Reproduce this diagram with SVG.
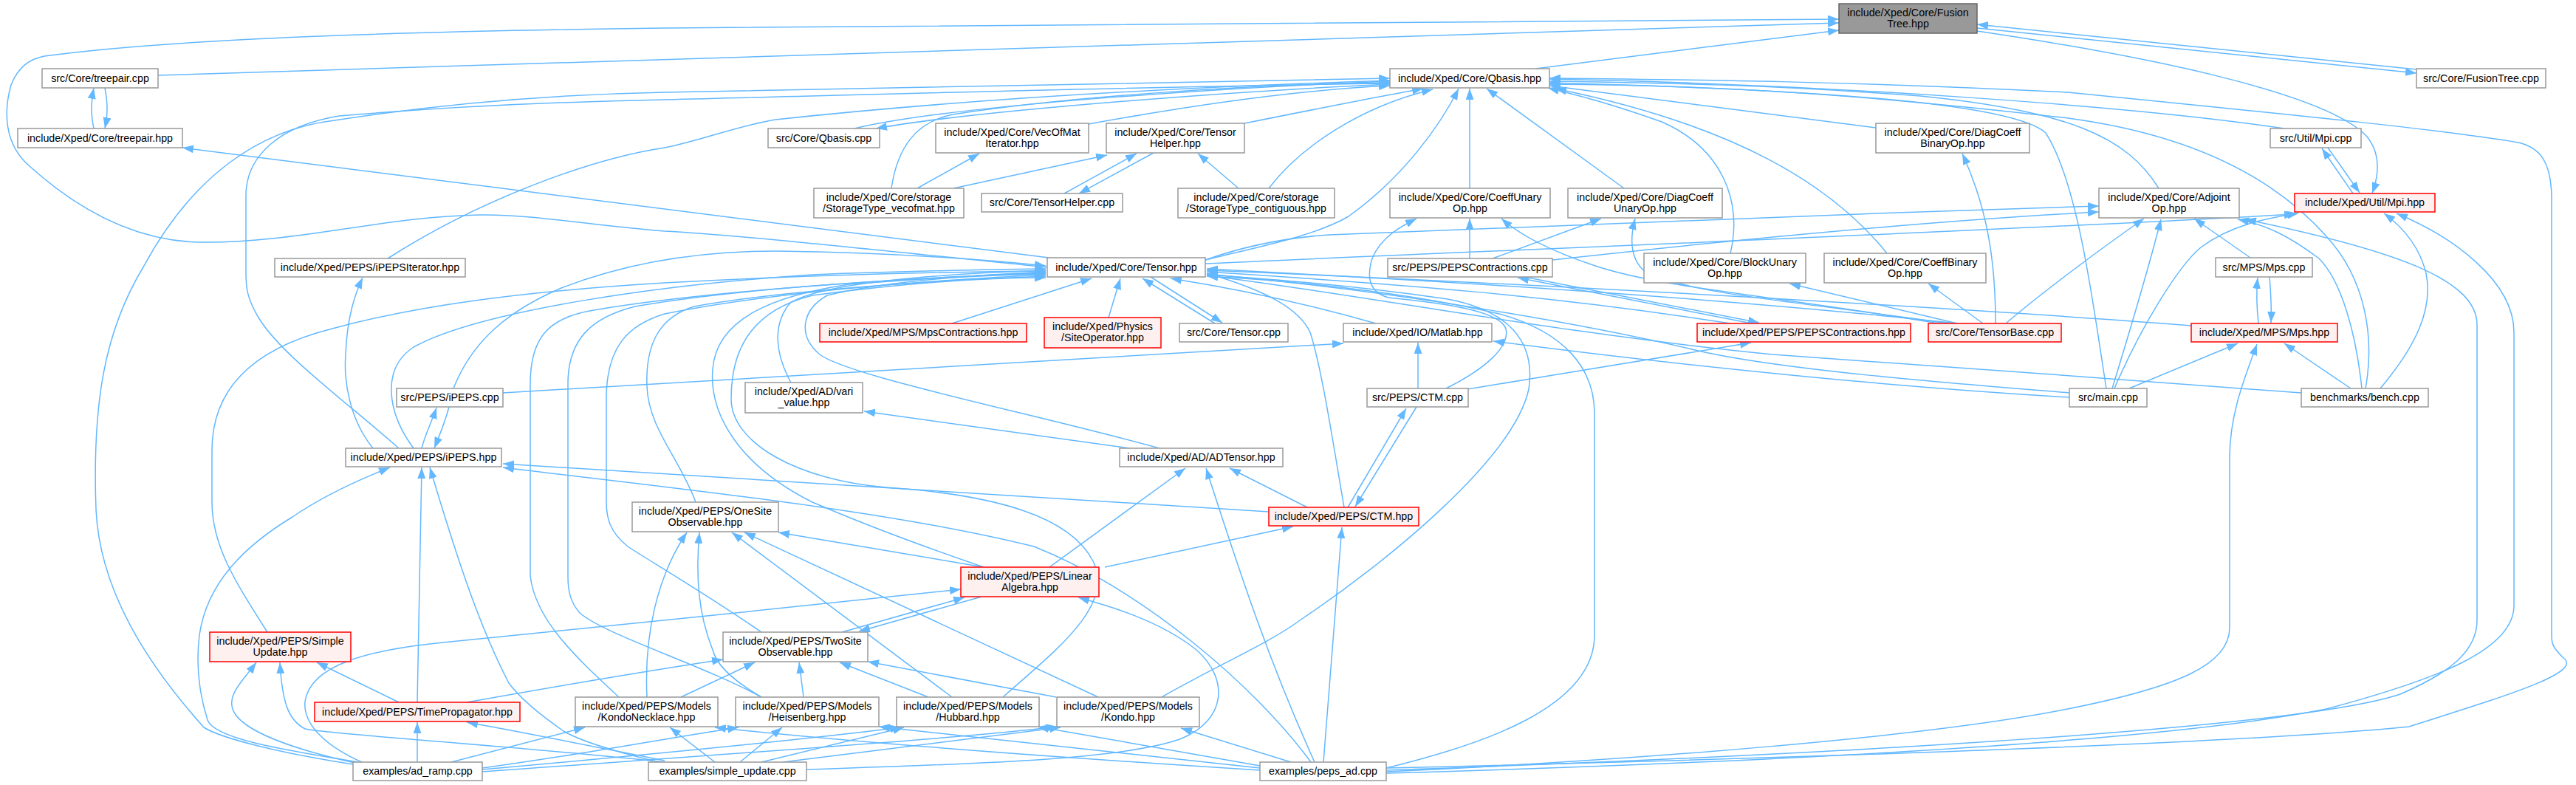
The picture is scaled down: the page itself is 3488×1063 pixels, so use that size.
<svg xmlns="http://www.w3.org/2000/svg" width="3488" height="1063" viewBox="0 0 3488 1063">
<style>
.n rect{fill:#fff;stroke:#999;stroke-width:1.5}
.r rect{fill:#fff0f0;stroke:#f00;stroke-width:1.5}
.root rect{fill:#999;stroke:#666;stroke-width:1.5}
text{font-family:"Liberation Sans",Arial,sans-serif;font-size:14.3px;text-anchor:middle;fill:#000}
#edges path{fill:none;stroke:#63b8ff;stroke-width:1.5;marker-end:url(#ah)}
</style>
<defs>
<marker id="ah" markerUnits="userSpaceOnUse" markerWidth="15" markerHeight="11" viewBox="0 0 15 11" refX="15" refY="5.5" orient="auto"><path d="M0,0 L15,5.5 L0,11 z" fill="#63b8ff"/></marker>
</defs>
<rect width="3488" height="1063" fill="#fff"/>
<g id="edges">
<path d="M2079,93 L2490,41"/>
<path d="M214,102 L2490,31"/>
<path d="M1418,362 C1250,345 1000,318 900,313 C800,305 720,290 650,291 C520,293 400,330 270,328 C170,326 90,270 40,225 C5,195 5,150 15,115 C25,90 40,80 60,76 C250,50 600,42 900,38 C1500,32 2100,27 2490,26"/>
<path d="M3272,94 L2677,33"/>
<path d="M2677,38 L3272,99"/>
<path d="M2677,42 C2900,75 3150,125 3205,185 C3225,210 3220,240 3212,262"/>
<path d="M127,174 C123,155 123,140 127,119"/>
<path d="M142,119 C146,140 146,155 142,174"/>
<path d="M1420,349 L247,200"/>
<path d="M1157,174 C1300,140 1700,117 1882,110"/>
<path d="M1882,114 C1700,122 1330,148 1186,174"/>
<path d="M1474,168 C1600,145 1750,122 1882,116"/>
<path d="M1685,167 C1780,148 1870,130 1927,120"/>
<path d="M1207,255 C1215,200 1240,165 1290,155 C1450,130 1700,114 1882,112"/>
<path d="M1242,255 L1326,208"/>
<path d="M1291,255 L1499,210"/>
<path d="M1441,262 L1539,208"/>
<path d="M1562,207 L1461,262"/>
<path d="M1677,255 L1622,208"/>
<path d="M1718,255 C1760,200 1840,145 1940,121"/>
<path d="M1632,352 C1700,335 1780,320 1826,293 C1900,240 1950,170 1975,120"/>
<path d="M1990,255 L1990,120"/>
<path d="M2199,255 L2013,120"/>
<path d="M2343,343 C2360,270 2330,200 2250,165 C2180,140 2140,130 2096,119"/>
<path d="M2555,343 C2480,250 2350,170 2106,120"/>
<path d="M2540,173 L2098,116"/>
<path d="M3093,174 C2900,145 2500,115 2098,107"/>
<path d="M2923,255 C2880,185 2800,150 2600,130 C2400,115 2250,112 2098,110"/>
<path d="M2852,526 C2835,420 2815,250 2770,180 C2720,135 2400,120 2098,112"/>
<path d="M3203,526 C3215,460 3205,380 3150,320 C3070,230 2950,180 2800,160 C2500,125 2300,115 2098,114"/>
<path d="M1877,1040 C2300,1030 3000,1010 3262,984 C3400,940 3500,910 3470,890 C3455,875 3455,870 3455,860 L3455,270 C3455,220 3440,200 3410,193 C3300,175 3150,160 2800,125 C2500,110 2300,108 2098,106"/>
<path d="M525,350 C650,270 800,215 900,200 C950,190 1000,170 1050,162 C1300,135 1600,118 1882,109"/>
<path d="M540,607 C470,545 380,480 350,430 C335,405 333,390 333,370 L333,265 C333,210 380,170 459,157 C600,145 750,138 900,135 C1300,125 1600,116 1882,113"/>
<path d="M478,1035 C380,1020 300,1000 276,985 C200,900 135,800 130,690 C125,550 140,450 195,360 C260,240 350,175 453,163 C600,140 750,128 900,125 C1300,118 1600,110 1882,106"/>
<path d="M614,526 C640,460 690,420 760,390 C850,355 950,340 1050,340 C1200,342 1320,350 1416,360"/>
<path d="M560,607 C525,560 515,500 560,470 C650,420 900,385 1100,372 C1250,366 1350,365 1416,364"/>
<path d="M362,856 C320,790 287,740 287,680 L287,610 C287,520 350,470 450,445 C560,415 700,395 900,383 C1100,372 1300,368 1416,367"/>
<path d="M838,944 C780,890 725,840 718,780 L718,520 C718,460 740,430 804,420 C950,395 1200,378 1416,369"/>
<path d="M1031,944 C950,900 820,860 785,830 C772,815 769,800 769,780 L769,520 C769,460 800,430 860,415 C1000,390 1250,375 1416,370"/>
<path d="M1031,856 C950,800 880,760 850,740 C825,720 821,700 821,680 L821,540 C821,470 850,440 900,425 C1050,395 1250,380 1416,372"/>
<path d="M942,680 C920,620 878,580 876,523 C874,470 890,430 940,415 C1050,395 1250,380 1416,374"/>
<path d="M1358,944 C1430,880 1510,820 1480,760 C1450,700 1350,670 1200,660 C1080,650 990,600 990,540 C990,470 1020,420 1100,400 C1250,380 1350,376 1416,376"/>
<path d="M1573,944 C1650,900 1720,870 1760,840 C1880,760 2050,620 2070,527 C2080,460 2040,420 1960,405 C1820,385 1720,378 1634,372"/>
<path d="M1332,768 C1250,740 1170,710 1100,680 C1000,630 960,560 965,500 C970,430 1050,400 1150,385 C1300,373 1380,372 1416,371"/>
<path d="M1820,687 C1805,600 1790,500 1774,450 C1760,420 1720,395 1634,370"/>
<path d="M1570,607 C1400,560 1150,510 1110,480 C1080,455 1085,420 1120,400 C1200,380 1330,372 1416,368"/>
<path d="M1071,518 C1050,480 1045,440 1070,410 C1120,380 1300,370 1416,366"/>
<path d="M1289,438 L1478,377"/>
<path d="M1501,430 L1517,377"/>
<path d="M1645,438 L1547,377"/>
<path d="M1558,375 L1655,437"/>
<path d="M1863,438 C1800,420 1700,395 1585,377"/>
<path d="M2343,438 C2100,400 1900,385 1634,368"/>
<path d="M2651,438 C2300,400 1900,378 1634,364"/>
<path d="M2967,441 C2700,420 2100,385 1634,366"/>
<path d="M2802,532 C2650,520 2400,500 2291,473 C2150,440 1900,395 1634,371"/>
<path d="M3116,532 C2900,515 2600,495 2400,480 C2100,450 1850,400 1634,373"/>
<path d="M1877,1040 C2000,1010 2159,960 2159,860 L2159,560 C2159,500 2120,450 2030,425 C1900,395 1750,380 1634,374"/>
<path d="M1918,551 L1835,686"/>
<path d="M1825,687 L1904,553"/>
<path d="M1920,526 L1920,464"/>
<path d="M1987,527 L2371,464"/>
<path d="M1958,526 C2010,500 2045,470 2039,445 C2030,420 1950,410 1880,403 C1850,395 1852,370 1858,350 C1870,320 1900,305 1918,296"/>
<path d="M1718,693 L681,628"/>
<path d="M1775,1032 C1700,930 1550,800 1400,740 C1200,690 900,660 681,633"/>
<path d="M1780,1032 C1720,900 1680,780 1633,634"/>
<path d="M1792,1032 L1817,714"/>
<path d="M1748,1032 L1599,986"/>
<path d="M1877,1045 C2200,1030 2600,1000 2800,960 C2950,930 3019,900 3019,850 L3019,620 C3019,560 3040,510 3056,466"/>
<path d="M1877,1047 C2300,1035 2900,1010 3150,960 C3300,920 3404,880 3404,820 L3404,450 C3404,380 3320,320 3245,289"/>
<path d="M1877,1043 C2400,1025 3100,990 3250,940 C3320,910 3354,880 3354,840 L3354,440 C3354,380 3250,340 3040,297"/>
<path d="M2860,526 C2880,460 2905,380 2926,297"/>
<path d="M2863,526 C2900,440 2950,360 2980,335 C3020,305 3070,295 3112,289"/>
<path d="M2883,526 L3030,465"/>
<path d="M2802,538 C2500,520 2200,485 2022,462"/>
<path d="M3183,526 L3093,465"/>
<path d="M3223,526 C3270,470 3295,420 3285,370 C3275,330 3250,305 3228,289"/>
<path d="M3198,526 C3190,450 3170,380 3140,350 C3100,320 3070,305 3030,297"/>
<path d="M3058,438 C3055,410 3055,395 3057,376"/>
<path d="M3073,375 C3075,400 3076,415 3075,437"/>
<path d="M3047,349 L2971,296"/>
<path d="M3186,262 L3144,201"/>
<path d="M3152,200 L3195,261"/>
<path d="M1632,357 C2000,340 2600,318 3108,290"/>
<path d="M1632,352 C1680,335 1740,322 1800,318 C2200,300 2500,290 2842,279"/>
<path d="M2102,352 C2300,330 2600,300 2842,287"/>
<path d="M1990,350 L1990,296"/>
<path d="M2021,350 L2168,296"/>
<path d="M2372,438 L2055,376"/>
<path d="M2064,375 L2382,437"/>
<path d="M2625,438 C2400,400 2250,390 2160,360 C2100,340 2060,320 2033,296"/>
<path d="M2637,438 C2450,410 2300,400 2230,370 C2210,355 2205,330 2214,296"/>
<path d="M2685,438 L2611,384"/>
<path d="M2702,438 C2702,350 2690,280 2657,208"/>
<path d="M2716,438 C2760,400 2840,340 2903,296"/>
<path d="M2650,438 L2423,384"/>
<path d="M1530,607 L1170,557"/>
<path d="M1421,768 L1605,634"/>
<path d="M1770,687 L1665,634"/>
<path d="M1496,768 L1751,713"/>
<path d="M876,944 C872,860 890,780 930,721"/>
<path d="M1031,944 C990,920 970,900 965,880 C945,830 942,780 947,721"/>
<path d="M1289,944 L991,721"/>
<path d="M1487,944 L1008,721"/>
<path d="M1332,768 L1054,721"/>
<path d="M922,944 L1022,897"/>
<path d="M1088,944 L1082,897"/>
<path d="M1257,944 L1137,897"/>
<path d="M1430,944 L1175,896"/>
<path d="M632,951 C750,930 900,905 979,893"/>
<path d="M1140,856 L1306,809"/>
<path d="M1329,808 L1163,855"/>
<path d="M490,1032 C440,1010 410,980 413,950 C420,900 500,880 600,870 C800,850 1100,820 1301,798"/>
<path d="M1092,1042 C1300,1035 1520,1030 1600,1000 C1660,975 1665,920 1620,880 C1570,840 1500,820 1460,809"/>
<path d="M611,1032 L792,985"/>
<path d="M968,1032 L907,985"/>
<path d="M1706,1043 C1500,1030 1200,1010 968,985"/>
<path d="M653,1040 C800,1020 900,1000 1000,985"/>
<path d="M1002,1032 L1059,985"/>
<path d="M1706,1040 L1190,984"/>
<path d="M653,1042 C900,1020 1100,1000 1220,985"/>
<path d="M1031,1032 L1224,985"/>
<path d="M1706,1037 L1405,984"/>
<path d="M653,1045 C1000,1020 1300,1000 1431,984"/>
<path d="M1060,1032 L1436,985"/>
<path d="M480,1033 C400,1015 325,990 315,960 C308,940 330,920 347,897"/>
<path d="M900,1032 C700,1010 450,995 413,987 C390,975 382,950 379,897"/>
<path d="M540,951 L429,897"/>
<path d="M565,1032 L565,978"/>
<path d="M900,1030 C800,1010 700,990 632,978"/>
<path d="M565,951 L571,633"/>
<path d="M900,1034 C820,1015 780,1000 763,990 C720,960 700,940 689,925 C650,850 620,760 582,633"/>
<path d="M485,1032 C380,1015 290,1000 281,975 C270,940 265,900 270,860 C280,790 330,740 396,700 C440,670 490,648 528,633"/>
<path d="M571,607 C575,590 585,570 591,552"/>
<path d="M608,551 C603,570 595,590 588,607"/>
<path d="M505,607 C475,570 465,520 468,480 C470,430 480,400 491,376"/>
<path d="M681,532 L1819,465"/>
</g>
<g id="n_fusiontree" class="root"><rect x="2490" y="5" width="187" height="40"/><text x="2583.5" y="21.5">include/Xped/Core/Fusion</text><text x="2583.5" y="36.5">Tree.hpp</text></g>
<g id="n_treepair_cpp" class="n"><rect x="57" y="93" width="157" height="26"/><text x="135.5" y="110.5">src/Core/treepair.cpp</text></g>
<g id="n_treepair_hpp" class="n"><rect x="24" y="174" width="223" height="26"/><text x="135.5" y="191.5">include/Xped/Core/treepair.hpp</text></g>
<g id="n_qbasis_hpp" class="n"><rect x="1882" y="93" width="216" height="26"/><text x="1990" y="110.5">include/Xped/Core/Qbasis.hpp</text></g>
<g id="n_fusiontree_cpp" class="n"><rect x="3272" y="93" width="175" height="26"/><text x="3359.5" y="110.5">src/Core/FusionTree.cpp</text></g>
<g id="n_qbasis_cpp" class="n"><rect x="1040" y="174" width="151" height="26"/><text x="1115.5" y="191.5">src/Core/Qbasis.cpp</text></g>
<g id="n_vecofmat_iter" class="n"><rect x="1267" y="167" width="207" height="40"/><text x="1370.5" y="183.5">include/Xped/Core/VecOfMat</text><text x="1370.5" y="198.5">Iterator.hpp</text></g>
<g id="n_tensorhelper_hpp" class="n"><rect x="1498" y="167" width="187" height="40"/><text x="1591.5" y="183.5">include/Xped/Core/Tensor</text><text x="1591.5" y="198.5">Helper.hpp</text></g>
<g id="n_storage_vecofmat" class="n"><rect x="1102" y="255" width="203" height="40"/><text x="1203.5" y="271.5">include/Xped/Core/storage</text><text x="1203.5" y="286.5">/StorageType_vecofmat.hpp</text></g>
<g id="n_tensorhelper_cpp" class="n"><rect x="1329" y="262" width="191" height="25"/><text x="1424.5" y="279">src/Core/TensorHelper.cpp</text></g>
<g id="n_storage_contig" class="n"><rect x="1595" y="255" width="212" height="40"/><text x="1701" y="271.5">include/Xped/Core/storage</text><text x="1701" y="286.5">/StorageType_contiguous.hpp</text></g>
<g id="n_coeffunary" class="n"><rect x="1882" y="255" width="217" height="40"/><text x="1990.5" y="271.5">include/Xped/Core/CoeffUnary</text><text x="1990.5" y="286.5">Op.hpp</text></g>
<g id="n_diagcoeffunary" class="n"><rect x="2123" y="255" width="209" height="40"/><text x="2227.5" y="271.5">include/Xped/Core/DiagCoeff</text><text x="2227.5" y="286.5">UnaryOp.hpp</text></g>
<g id="n_diagcoeffbinary" class="n"><rect x="2540" y="167" width="208" height="40"/><text x="2644" y="183.5">include/Xped/Core/DiagCoeff</text><text x="2644" y="198.5">BinaryOp.hpp</text></g>
<g id="n_mpi_cpp" class="n"><rect x="3074" y="174" width="123" height="26"/><text x="3135.5" y="191.5">src/Util/Mpi.cpp</text></g>
<g id="n_mpi_hpp" class="r"><rect x="3107" y="262" width="190" height="25"/><text x="3202" y="279">include/Xped/Util/Mpi.hpp</text></g>
<g id="n_adjointop" class="n"><rect x="2842" y="255" width="190" height="40"/><text x="2937" y="271.5">include/Xped/Core/Adjoint</text><text x="2937" y="286.5">Op.hpp</text></g>
<g id="n_mps_cpp" class="n"><rect x="3000" y="349" width="131" height="26"/><text x="3065.5" y="366.5">src/MPS/Mps.cpp</text></g>
<g id="n_mps_hpp" class="r"><rect x="2967" y="438" width="198" height="25"/><text x="3066" y="455">include/Xped/MPS/Mps.hpp</text></g>
<g id="n_main_cpp" class="n"><rect x="2802" y="526" width="105" height="25"/><text x="2854.5" y="543">src/main.cpp</text></g>
<g id="n_bench_cpp" class="n"><rect x="3116" y="526" width="172" height="25"/><text x="3202" y="543">benchmarks/bench.cpp</text></g>
<g id="n_tensorbase_cpp" class="r"><rect x="2611" y="438" width="180" height="25"/><text x="2701" y="455">src/Core/TensorBase.cpp</text></g>
<g id="n_coeffbinary" class="n"><rect x="2470" y="343" width="219" height="40"/><text x="2579.5" y="359.5">include/Xped/Core/CoeffBinary</text><text x="2579.5" y="374.5">Op.hpp</text></g>
<g id="n_blockunary" class="n"><rect x="2226" y="343" width="219" height="40"/><text x="2335.5" y="359.5">include/Xped/Core/BlockUnary</text><text x="2335.5" y="374.5">Op.hpp</text></g>
<g id="n_pepscontr_cpp" class="n"><rect x="1879" y="350" width="223" height="25"/><text x="1990.5" y="367">src/PEPS/PEPSContractions.cpp</text></g>
<g id="n_pepscontr_hpp" class="r"><rect x="2298" y="438" width="289" height="25"/><text x="2442.5" y="455">include/Xped/PEPS/PEPSContractions.hpp</text></g>
<g id="n_matlab" class="n"><rect x="1819" y="438" width="201" height="25"/><text x="1919.5" y="455">include/Xped/IO/Matlab.hpp</text></g>
<g id="n_ctm_cpp" class="n"><rect x="1851" y="526" width="137" height="25"/><text x="1919.5" y="543">src/PEPS/CTM.cpp</text></g>
<g id="n_ctm_hpp" class="r"><rect x="1718" y="687" width="203" height="25"/><text x="1819.5" y="704">include/Xped/PEPS/CTM.hpp</text></g>
<g id="n_tensor_hpp" class="n"><rect x="1418" y="349" width="214" height="26"/><text x="1525" y="366.5">include/Xped/Core/Tensor.hpp</text></g>
<g id="n_ipepsiterator" class="n"><rect x="372" y="350" width="258" height="25"/><text x="501" y="367">include/Xped/PEPS/iPEPSIterator.hpp</text></g>
<g id="n_mpscontr" class="r"><rect x="1110" y="438" width="280" height="25"/><text x="1250" y="455">include/Xped/MPS/MpsContractions.hpp</text></g>
<g id="n_siteoperator" class="r"><rect x="1414" y="430" width="158" height="41"/><text x="1493" y="446.5">include/Xped/Physics</text><text x="1493" y="461.5">/SiteOperator.hpp</text></g>
<g id="n_tensor_cpp" class="n"><rect x="1597" y="438" width="147" height="25"/><text x="1670.5" y="455">src/Core/Tensor.cpp</text></g>
<g id="n_vari_value" class="n"><rect x="1009" y="518" width="159" height="41"/><text x="1088.5" y="534.5">include/Xped/AD/vari</text><text x="1088.5" y="549.5">_value.hpp</text></g>
<g id="n_adtensor" class="n"><rect x="1516" y="607" width="221" height="25"/><text x="1626.5" y="624">include/Xped/AD/ADTensor.hpp</text></g>
<g id="n_ipeps_cpp" class="n"><rect x="537" y="526" width="144" height="25"/><text x="609" y="543">src/PEPS/iPEPS.cpp</text></g>
<g id="n_ipeps_hpp" class="n"><rect x="468" y="607" width="211" height="25"/><text x="573.5" y="624">include/Xped/PEPS/iPEPS.hpp</text></g>
<g id="n_onesite" class="n"><rect x="856" y="680" width="198" height="40"/><text x="955" y="696.5">include/Xped/PEPS/OneSite</text><text x="955" y="711.5">Observable.hpp</text></g>
<g id="n_linalg" class="r"><rect x="1301" y="768" width="187" height="40"/><text x="1394.5" y="784.5">include/Xped/PEPS/Linear</text><text x="1394.5" y="799.5">Algebra.hpp</text></g>
<g id="n_twosite" class="n"><rect x="979" y="856" width="196" height="40"/><text x="1077" y="872.5">include/Xped/PEPS/TwoSite</text><text x="1077" y="887.5">Observable.hpp</text></g>
<g id="n_simpleupdate" class="r"><rect x="284" y="856" width="191" height="40"/><text x="379.5" y="872.5">include/Xped/PEPS/Simple</text><text x="379.5" y="887.5">Update.hpp</text></g>
<g id="n_timeprop" class="r"><rect x="426" y="951" width="278" height="26"/><text x="565" y="968.5">include/Xped/PEPS/TimePropagator.hpp</text></g>
<g id="n_kondonecklace" class="n"><rect x="779" y="944" width="193" height="40"/><text x="875.5" y="960.5">include/Xped/PEPS/Models</text><text x="875.5" y="975.5">/KondoNecklace.hpp</text></g>
<g id="n_heisenberg" class="n"><rect x="996" y="944" width="194" height="40"/><text x="1093" y="960.5">include/Xped/PEPS/Models</text><text x="1093" y="975.5">/Heisenberg.hpp</text></g>
<g id="n_hubbard" class="n"><rect x="1214" y="944" width="193" height="40"/><text x="1310.5" y="960.5">include/Xped/PEPS/Models</text><text x="1310.5" y="975.5">/Hubbard.hpp</text></g>
<g id="n_kondo" class="n"><rect x="1431" y="944" width="193" height="40"/><text x="1527.5" y="960.5">include/Xped/PEPS/Models</text><text x="1527.5" y="975.5">/Kondo.hpp</text></g>
<g id="n_ad_ramp" class="n"><rect x="478" y="1032" width="175" height="25"/><text x="565.5" y="1049">examples/ad_ramp.cpp</text></g>
<g id="n_simple_update" class="n"><rect x="878" y="1032" width="214" height="25"/><text x="985" y="1049">examples/simple_update.cpp</text></g>
<g id="n_peps_ad" class="n"><rect x="1706" y="1032" width="171" height="25"/><text x="1791.5" y="1049">examples/peps_ad.cpp</text></g>
</svg>
